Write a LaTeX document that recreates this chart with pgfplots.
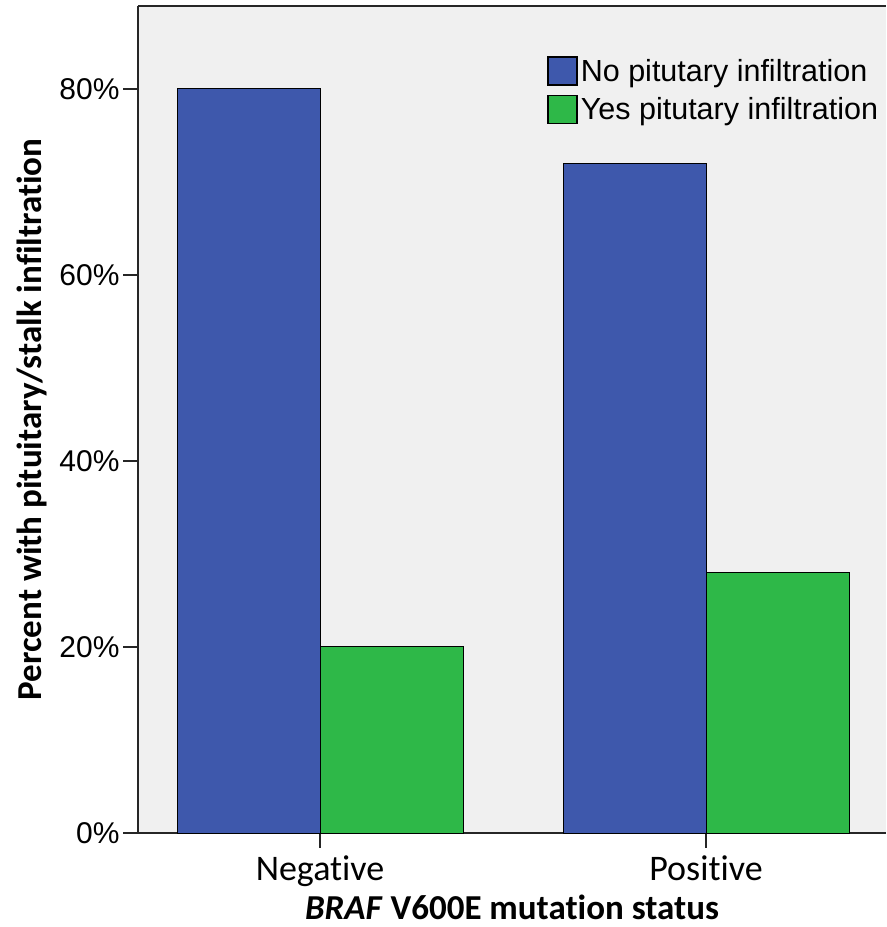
\documentclass[border=0pt]{standalone}
\usepackage{fontspec}
\setmainfont{Carlito}[Ligatures={NoCommon}]
\newfontfamily\arial{Liberation Sans}
\usepackage{pgfplots}
\pgfplotsset{compat=1.18}
\definecolor{barblue}{HTML}{3E58AC}
\definecolor{bargreen}{HTML}{2EB848}
\definecolor{bg}{HTML}{F0F0F0}
\begin{document}
\begin{tikzpicture}
\begin{axis}[
  scale only axis, width=748pt, height=827pt,
  xmin=-0.4715, xmax=1.4663, ymin=0, ymax=88.9,
  axis x line*=box, axis y line*=left,
  axis background/.style={fill=bg},
  axis line style={line width=1.5pt, black!85},
  xtick={0,1}, xticklabels={Negative,Positive},
  ytick={0,20,40,60,80}, yticklabels={0\%,20\%,40\%,60\%,80\%},
  xtick pos=bottom, ytick pos=left,
  tick align=outside, major tick length=15pt,
  tick style={line width=1.5pt, black!85},
  xticklabel style={font=\fontsize{36}{40}\selectfont, anchor=base, yshift=-33pt},
  yticklabel style={font=\arial\fontsize{30}{34}\selectfont, anchor=east, xshift=0pt},
  ybar=0pt, bar width=143pt,
  xlabel={\textbf{\textit{BRAF} V600E mutation status}},
  ylabel={\bfseries Percent with pituitary/stalk infiltration},
  every axis x label/.style={at={(rel axis cs:0.5,0)}, anchor=base, yshift=-86pt, inner sep=0pt, font=\fontsize{35}{40}\selectfont},
  every axis y label/.style={at={(rel axis cs:0,0.5)}, xshift=-96pt, rotate=90, anchor=base, font=\fontsize{35}{40}\selectfont},
  legend style={at={(rel axis cs:0.547,0.9395)}, anchor=north west, draw=none, fill=none,
     font=\arial\fontsize{30.5}{34}\selectfont, row sep=9pt, inner sep=0pt,
     nodes={inner xsep=3pt}},
  legend cell align=left,
]
\addplot[fill=barblue, draw=black, line width=1pt,
  legend image code/.code={\draw[fill=barblue, draw=black, line width=1.5pt] (0pt,-14pt) rectangle (29pt,14pt);}]
  coordinates {(0,80) (1,72)};
\addplot[fill=bargreen, draw=black, line width=1pt,
  legend image code/.code={\draw[fill=bargreen, draw=black, line width=1.5pt] (0pt,-14pt) rectangle (29pt,14pt);}]
  coordinates {(0,20) (1,28)};
\legend{No pitutary infiltration, Yes pitutary infiltration}
\coordinate (bl) at (rel axis cs:0,0);
\coordinate (tr) at (rel axis cs:1,1);
\end{axis}
\pgfresetboundingbox
\path[use as bounding box] ([xshift=-138pt,yshift=-94pt]bl) rectangle ([yshift=6pt]tr);
\end{tikzpicture}
\end{document}
